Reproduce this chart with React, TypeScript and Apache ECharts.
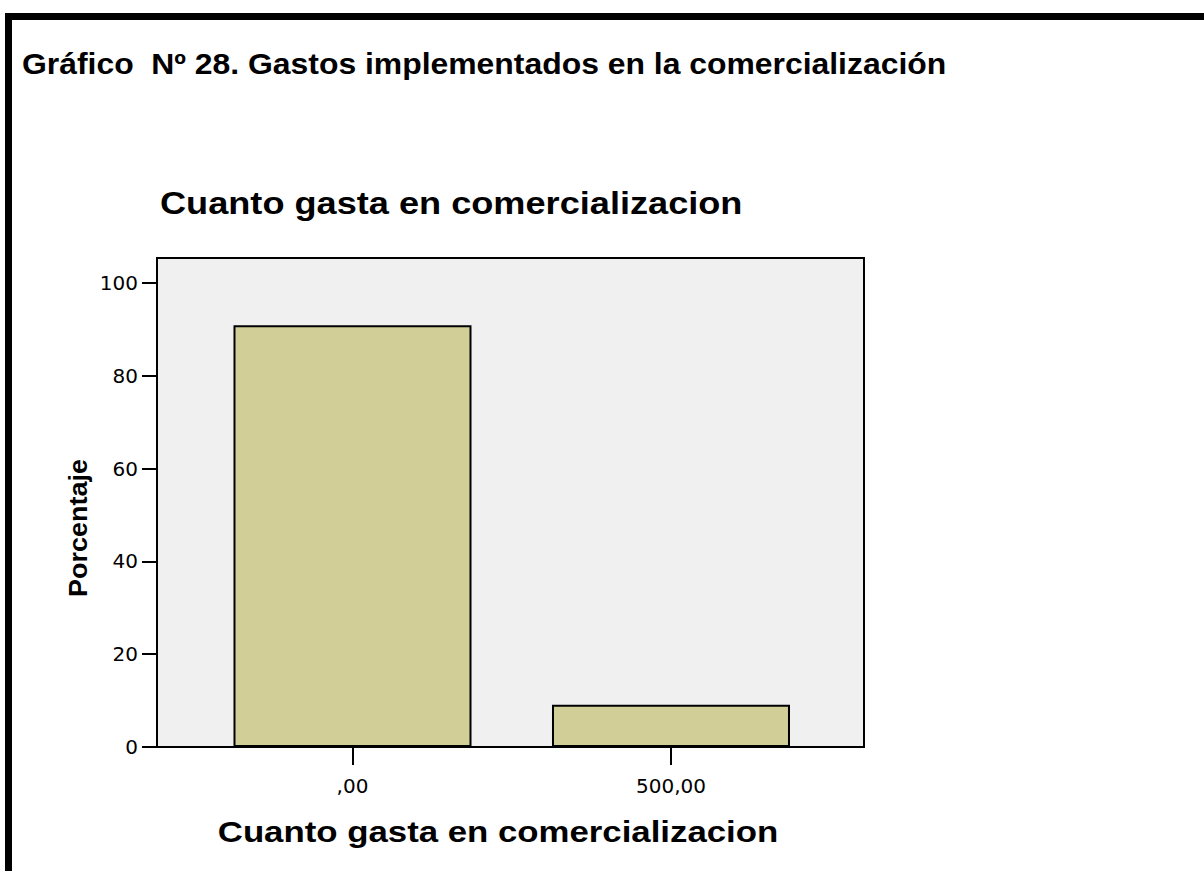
import React, { useEffect, useRef } from "react";
import * as echarts from "echarts";

const categories = [",00", "500,00"];
const categoryPositions = [0, 1];
const percentValues = [90.9, 9.1];
const yTickValues = [0, 20, 40, 60, 80, 100];

const mainTitle = "Gráfico  Nº 28. Gastos implementados en la comercialización";
const chartTitle = "Cuanto gasta en comercializacion";
const xAxisTitle = "Cuanto gasta en comercializacion";
const yAxisTitle = "Porcentaje";

export default function App() {
  const ref = useRef<HTMLDivElement>(null);
  useEffect(() => {
    const chart = echarts.init(ref.current!, null, { renderer: "svg" });
    const font = "'Liberation Sans', Arial, Helvetica, sans-serif";
    const tickFont = "'DejaVu Sans', Verdana, sans-serif";
    chart.setOption({
      animation: false,
      backgroundColor: "#ffffff",
      grid: {
        left: 157,
        right: 340,
        top: 258,
        bottom: 124,
        show: true,
        backgroundColor: "#f0f0f0",
        borderColor: "#000000",
        borderWidth: 2,
      },
      xAxis: {
        type: "value",
        min: -0.6138,
        max: 1.606,
        axisLine: { show: true, onZero: false, lineStyle: { color: "#000000", width: 2 } },
        axisTick: {
          show: true,
          customValues: categoryPositions,
          length: 18,
          lineStyle: { color: "#000000", width: 2 },
        },
        axisLabel: {
          customValues: categoryPositions,
          formatter: (v: number) => {
            const i = categoryPositions.indexOf(Math.round(v));
            return i >= 0 ? categories[i] : "";
          },
          margin: 29,
          fontFamily: tickFont,
          fontSize: 20,
          color: "#000000",
        },
        splitLine: { show: false },
      },
      yAxis: {
        type: "value",
        min: 0,
        max: 105.4,
        interval: 20,
        axisLine: { show: true, onZero: false, lineStyle: { color: "#000000", width: 2 } },
        axisTick: {
          show: true,
          customValues: yTickValues,
          length: 15,
          lineStyle: { color: "#000000", width: 2 },
        },
        axisLabel: {
          customValues: yTickValues,
          margin: 19,
          fontFamily: tickFont,
          fontSize: 20,
          color: "#000000",
          padding: [4, 0, 0, 0],
        },
        splitLine: { show: false },
      },
      series: [
        {
          type: "bar",
          data: categoryPositions.map((x, i) => [x, percentValues[i]]),
          barWidth: 238,
          itemStyle: { color: "#d2ce98", borderColor: "#000000", borderWidth: 2 },
        },
      ],
      graphic: [
        { type: "rect", z: 100, shape: { x: 5, y: 13, width: 1199, height: 7 }, style: { fill: "#000000" } },
        { type: "rect", z: 100, shape: { x: 5, y: 13, width: 7, height: 858 }, style: { fill: "#000000" } },
        {
          type: "text",
          x: 22,
          y: 63.5,
          scaleX: 1.1,
          style: {
            text: mainTitle,
            fontFamily: font,
            fontWeight: "bold",
            fontSize: 29,
            fill: "#000000",
            align: "left",
            verticalAlign: "middle",
          },
        },
        {
          type: "text",
          x: 160,
          y: 203,
          scaleX: 1.13,
          style: {
            text: chartTitle,
            fontFamily: font,
            fontWeight: "bold",
            fontSize: 32,
            fill: "#000000",
            align: "left",
            verticalAlign: "middle",
          },
        },
        {
          type: "text",
          x: 498,
          y: 832,
          scaleX: 1.16,
          style: {
            text: xAxisTitle,
            fontFamily: font,
            fontWeight: "bold",
            fontSize: 30,
            fill: "#000000",
            align: "center",
            verticalAlign: "middle",
          },
        },
        {
          type: "text",
          x: 78,
          y: 528,
          rotation: Math.PI / 2,
          scaleX: 1.08,
          style: {
            text: yAxisTitle,
            fontFamily: font,
            fontWeight: "bold",
            fontSize: 25,
            fill: "#000000",
            align: "center",
            verticalAlign: "middle",
          },
        },
      ],
    });
    return () => chart.dispose();
  }, []);
  return (
    <div
      ref={ref}
      style={{ position: "fixed", left: 0, top: 0, width: 1204, height: 871 }}
    />
  );
}
